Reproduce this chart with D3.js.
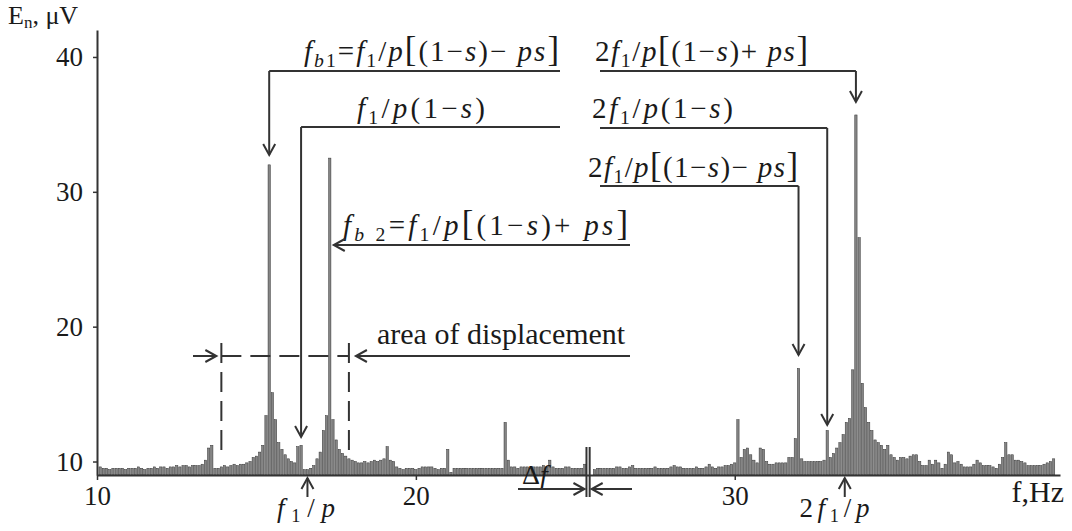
<!DOCTYPE html>
<html><head><meta charset="utf-8">
<script src="https://cdn.jsdelivr.net/npm/d3@7"></script>
<style>
body{margin:0;background:#fff}
svg text{font-family:'Liberation Serif','DejaVu Serif','Times New Roman',serif !important;fill:#1a1a1a}
</style>
</head><body>
<svg id="chart" width="1072" height="531" font-family="Liberation Serif, DejaVu Serif, serif"></svg>
<script>
// ---------- DATA ----------
const freqStart = 10.1;      // Hz, first spectral line
const freqStep = 0.1;        // Hz, resolution Δf
const amplitudes = [
 9.6,9.5,9.5,9.4,9.5,9.5,9.5,9.5,9.4,9.5,
 9.5,9.5,9.6,9.5,9.4,9.5,9.5,9.6,9.5,9.6,
 9.6,9.5,9.6,9.6,9.7,9.6,9.7,9.7,9.6,9.7,
 9.7,9.7,9.8,10.1,11.0,11.2,9.5,9.5,9.6,9.7,
 9.6,9.7,9.8,9.7,9.8,9.8,9.9,10.0,10.3,10.4,
 10.7,11.2,13.4,32.0,15.1,13.1,11.4,10.9,10.5,10.2,
 10.0,9.9,11.1,11.2,9.4,9.4,9.5,9.7,10.2,10.7,
 12.3,13.4,32.5,13.1,11.6,10.9,10.6,10.4,10.2,10.1,
 10.0,9.9,9.9,10.0,9.9,10.0,10.1,10.0,10.1,10.2,
 11.1,10.1,10.0,9.6,9.5,9.4,9.5,9.5,9.5,9.4,
 9.5,9.6,9.6,9.6,9.6,9.5,9.4,9.5,9.5,10.9,
 9.2,9.5,9.5,9.5,9.5,9.5,9.5,9.5,9.5,9.5,
 9.5,9.5,9.5,9.5,9.5,9.5,9.5,12.9,10.1,9.6,
 9.6,9.5,9.6,9.6,9.6,9.5,9.6,9.6,9.6,9.7,
 9.6,10.1,9.6,9.5,9.5,9.5,9.6,9.6,9.5,9.5,
 9.5,9.5,9.8,9.0,9.0,9.4,9.5,9.5,9.5,9.5,
 9.5,9.5,9.6,9.6,9.5,9.5,9.6,9.7,9.5,9.5,
 9.5,9.5,9.5,9.5,9.6,9.5,9.5,9.5,9.5,9.6,
 9.7,9.6,9.6,9.5,9.5,9.5,9.5,9.6,9.5,9.5,
 9.6,9.8,9.6,9.5,9.6,9.6,9.7,9.7,9.8,9.9,
 13.1,10.3,10.9,11.0,10.5,10.1,9.9,11.0,10.9,10.0,
 9.8,9.8,9.9,9.9,9.9,9.9,10.3,10.3,11.7,16.9,
 10.2,10.0,10.0,10.0,10.0,10.0,10.0,10.1,12.3,10.3,
 10.6,11.0,11.4,12.0,12.9,13.2,16.8,35.7,26.6,15.8,
 14.0,12.9,12.3,11.6,11.4,11.2,10.9,11.2,10.5,10.3,
 10.1,10.3,10.3,10.2,10.4,10.5,10.5,10.0,9.7,9.7,
 10.1,9.8,10.1,9.9,9.5,9.8,10.7,10.5,9.9,10.0,
 9.8,9.6,9.6,9.6,9.8,10.1,9.9,9.7,9.7,9.7,
 9.6,9.5,9.8,10.3,11.4,10.5,10.5,10.1,10.1,10.0,
 9.9,9.7,9.7,9.7,9.7,9.7,9.8,9.9,10.0,10.2
];
const yTickValues = [10, 20, 30, 40];
const xTickValues = [10, 20, 30];
const yLabel = ["E", "n", ", μV"];
const xLabel = "f,Hz";
// characteristic frequencies (Hz) that annotations point at
const fb1Freq = 15.4, f1s1Freq = 16.4, fb2Freq = 17.3, f1pFreq = 16.6;
const areaLeftFreq = 13.9, areaRightFreq = 17.9;
const r3Freq = 32.0, r2Freq = 32.9, r1Freq = 33.8, f2pFreq = 33.45;
const dfLeftFreq = 25.35, dfRightFreq = 25.45;

// ---------- SCALES ----------
const FONT = "'Liberation Serif','DejaVu Serif',serif";
const svg = d3.select("#chart");
const xs = d3.scaleLinear().domain([10, 40.2]).range([97, 1060]);
const ys = d3.scaleLinear().domain([9, 42]).range([475, 30]);
const freqs = amplitudes.map((_, i) => +(freqStart + i * freqStep).toFixed(2));
const barW = 2.3;
const ink = "#333";

// ---------- BARS ----------
svg.append("g").selectAll("rect").data(amplitudes).join("rect")
  .attr("x", (d, i) => xs(freqs[i]) - barW / 2)
  .attr("y", d => ys(d))
  .attr("width", barW)
  .attr("height", d => ys(9) - ys(d))
  .attr("fill", "#858585")
  .attr("stroke", "#333")
  .attr("stroke-width", 0.5);

// ---------- AXES ----------
const gy = svg.append("g").attr("transform", `translate(${xs(10)},0)`)
  .call(d3.axisLeft(ys).tickValues(yTickValues).tickSize(4).tickSizeOuter(0).tickPadding(10).tickFormat(d3.format("d")));
const gx = svg.append("g").attr("transform", `translate(0,${ys(9)})`)
  .call(d3.axisBottom(xs).tickValues(xTickValues).tickSize(5).tickSizeOuter(0).tickPadding(6).tickFormat(d3.format("d")));
[gx, gy].forEach(g => {
  g.attr("font-family", FONT);
  g.select(".domain").attr("stroke", ink).attr("stroke-width", 2);
  g.selectAll(".tick line").attr("stroke", ink).attr("stroke-width", 1.5);
  g.selectAll(".tick text").attr("font-size", 27).attr("fill", "#1a1a1a").style("font-family", FONT);
});

// axis titles
const yt = svg.append("text").attr("x", 8).attr("y", 24).attr("font-size", 26).style("font-family", FONT);
yt.append("tspan").text(yLabel[0]);
yt.append("tspan").attr("font-size", 17).attr("dy", 4).text(yLabel[1]);
yt.append("tspan").attr("dy", -4).text(yLabel[2]);
svg.append("text").attr("x", 1064).attr("y", 502).attr("text-anchor", "end")
  .attr("font-size", 30).style("font-family", FONT).text(xLabel);

// ---------- ANNOTATION HELPERS ----------
function line(x1, y1, x2, y2, dash) {
  const l = svg.append("line").attr("x1", x1).attr("y1", y1).attr("x2", x2).attr("y2", y2)
    .attr("stroke", ink).attr("stroke-width", 2);
  if (dash) l.attr("stroke-dasharray", dash);
  return l;
}
function head(x, y, dir) { // open V arrowhead, tip at (x,y)
  const L = 11, S = 6;
  let p;
  if (dir === "down") p = [[x - S, y - L], [x, y], [x + S, y - L]];
  if (dir === "up") p = [[x - S, y + L], [x, y], [x + S, y + L]];
  if (dir === "left") p = [[x + L, y - S], [x, y], [x + L, y + S]];
  if (dir === "right") p = [[x - L, y - S], [x, y], [x - L, y + S]];
  svg.append("path").attr("d", d3.line()(p)).attr("fill", "none")
    .attr("stroke", ink).attr("stroke-width", 2);
}
function formula(segs, x, y, size, width, anchor) {
  const t = svg.append("text").attr("x", x).attr("y", y).attr("font-size", size).style("font-family", FONT);
  let shifted = false, n = 0;
  segs.forEach(([s, st]) => {
    const ts = t.append("tspan").text(s);
    n += s.length;
    if (st.includes("i")) ts.attr("font-style", "italic");
    if (st.includes("b")) ts.attr("font-size", size * 1.2);
    if (st.includes("s")) {
      ts.attr("font-size", size * 0.68);
      if (!shifted) { ts.attr("dy", size * 0.2); shifted = true; }
    } else if (shifted) { ts.attr("dy", -size * 0.2); shifted = false; }
  });
  if (anchor) t.attr("text-anchor", anchor);
  if (width) {
    const w = t.node().getComputedTextLength();
    const ls = (width - w) / Math.max(1, n - 1);
    if (ls >= 0) t.attr("letter-spacing", ls);
    else t.attr("font-size", size * width / w).selectAll("tspan").each(function () {
      const fs = this.getAttribute("font-size");
      if (fs) this.setAttribute("font-size", +fs * width / w);
    });
  }
  return t;
}
const F = 29;
const fb1 = [["f","i"],["b","si"],["1","s"],["=",""],["f","i"],["1","s"],["/",""],["p","i"],["[","b"],["(1−",""],["s","i"],[")− ",""],["ps","i"],["]","b"]];
const f1s1 = [["f","i"],["1","s"],["/",""],["p","i"],["(1−",""],["s","i"],[")",""]];
const fb2 = [["f","i"],["b","si"],[" 2","s"],["=",""],["f","i"],["1","s"],["/",""],["p","i"],["[","b"],["(1−",""],["s","i"],[")+ ",""],["ps","i"],["]","b"]];
const r1 = [["2",""],["f","i"],["1","s"],["/",""],["p","i"],["[","b"],["(1−",""],["s","i"],[")+ ",""],["ps","i"],["]","b"]];
const r2 = [["2",""],["f","i"],["1","s"],["/",""],["p","i"],["(1−",""],["s","i"],[")",""]];
const r3 = [["2",""],["f","i"],["1","s"],["/",""],["p","i"],["[","b"],["(1−",""],["s","i"],[")− ",""],["ps","i"],["]","b"]];
const b1 = [["f","i"],["1","s"],["/",""],["p","i"]];
const b2 = [["2",""],["f","i"],["1","s"],["/",""],["p","i"]];

// fb1
formula(fb1, 304, 61, F, 255);
line(xs(fb1Freq), 71, 560, 71); line(xs(fb1Freq), 71, xs(fb1Freq), 155); head(xs(fb1Freq), 155, "down");
// f1/p(1-s)
formula(f1s1, 357, 118, F, 128);
line(xs(f1s1Freq), 127, 560, 127); line(xs(f1s1Freq), 127, xs(f1s1Freq), 437); head(xs(f1s1Freq), 437, "down");
// fb2
formula(fb2, 343, 235, F, 285);
line(xs(fb2Freq) + 4, 245, 630, 245); head(xs(fb2Freq) + 4, 245, "left");
// area of displacement
svg.append("text").attr("x", 377).attr("y", 344).attr("font-size", 30).style("font-family", FONT).text("area of displacement");
line(xs(areaRightFreq) + 7, 356, 630, 356); head(xs(areaRightFreq) + 7, 356, "left");
line(193, 356, xs(areaLeftFreq) - 5, 356); head(xs(areaLeftFreq) - 5, 356, "right");
line(xs(areaLeftFreq), 356, xs(areaRightFreq), 356, "20,9");
line(xs(areaLeftFreq), 343, xs(areaLeftFreq), 458, "20,9");
line(xs(areaRightFreq), 343, xs(areaRightFreq), 458, "20,9");
// right side formulas
formula(r1, 595, 61, F, 213);
line(600, 71, xs(r1Freq), 71); line(xs(r1Freq), 71, xs(r1Freq), 102); head(xs(r1Freq), 102, "down");
formula(r2, 592, 118, F, 141);
line(600, 128, xs(r2Freq), 128); line(xs(r2Freq), 128, xs(r2Freq), 425); head(xs(r2Freq), 425, "down");
formula(r3, 588, 177, F, 210);
line(600, 186, xs(r3Freq), 186); line(xs(r3Freq), 186, xs(r3Freq), 355); head(xs(r3Freq), 355, "down");
// bottom markers
line(xs(f1pFreq), 478, xs(f1pFreq), 497); head(xs(f1pFreq), 478, "up");
formula(b1, xs(f1pFreq) + 2, 517, 27, 58, "middle");
line(xs(f2pFreq), 478, xs(f2pFreq), 497); head(xs(f2pFreq), 478, "up");
formula(b2, xs(f2pFreq) - 8, 517, 27, 70, "middle");
// Δf marker
const dfT = svg.append("text").attr("x", 522).attr("y", 484).attr("font-size", 28).style("font-family", FONT);
dfT.append("tspan").text("Δ"); dfT.append("tspan").attr("font-style", "italic").text("f");
line(xs(dfLeftFreq), 447, xs(dfLeftFreq), 497); line(xs(dfRightFreq), 447, xs(dfRightFreq), 497);
line(518, 489, xs(dfLeftFreq) - 2, 489); head(xs(dfLeftFreq) - 2, 489, "right");
line(xs(dfRightFreq) + 2, 489, 632, 489); head(xs(dfRightFreq) + 2, 489, "left");
</script>
</body></html>
